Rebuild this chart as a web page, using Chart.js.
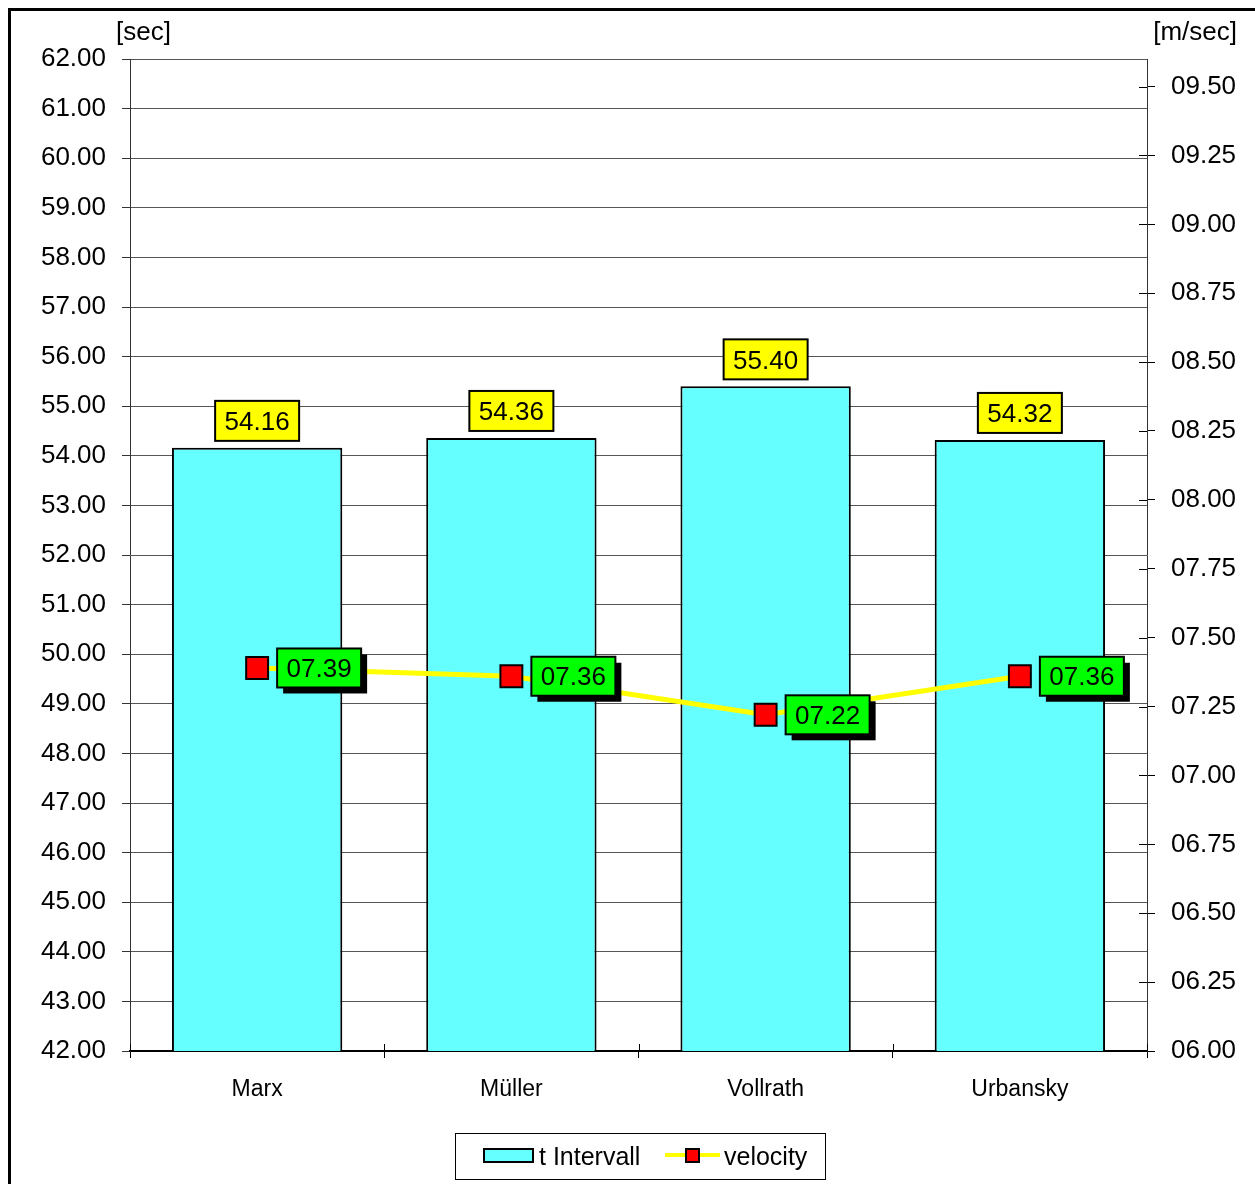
<!DOCTYPE html>
<html>
<head>
<meta charset="utf-8">
<script src="https://cdn.jsdelivr.net/npm/chart.js@4/dist/chart.umd.min.js"></script>
<style>
  html, body { margin: 0; padding: 0; background: #fff; }
  #wrap { position: relative; width: 1255px; height: 1184px; }
</style>
</head>
<body>
<div id="wrap"><canvas id="c"></canvas></div>
<script>
const categories = ['Marx', 'Müller', 'Vollrath', 'Urbansky'];
const tIntervall = [54.16, 54.36, 55.40, 54.32];
const velocity = [7.39, 7.36, 7.22, 7.36];
const leftMin = 42, leftMax = 62, leftStep = 1;
const rightMin = 6, rightMax = 9.6;
const rightTickValues = [6.00, 6.25, 6.50, 6.75, 7.00, 7.25, 7.50, 7.75, 8.00, 8.25, 8.50, 8.75, 9.00, 9.25, 9.50];
const leftTitle = '[sec]';
const rightTitle = '[m/sec]';
const seriesNames = ['t Intervall', 'velocity'];

const FONT = '"Liberation Sans", Arial, sans-serif';
const fmt2 = v => v.toFixed(2).padStart(5, '0');

const decor = {
  id: 'decor',
  beforeDraw(chart) {
    const ctx = chart.ctx;
    ctx.save();
    ctx.fillStyle = '#fff';
    ctx.fillRect(0, 0, chart.width, chart.height);
    ctx.fillStyle = '#000';
    ctx.fillRect(8, 8, chart.width, 3);
    ctx.fillRect(8, 8, 3, chart.height);
    ctx.restore();
  },
  afterDatasetsDraw(chart) {
    const ctx = chart.ctx;
    ctx.save();
    ctx.font = '26px ' + FONT;
    ctx.textAlign = 'center';
    ctx.textBaseline = 'middle';
    // bar value labels
    const barMeta = chart.getDatasetMeta(0);
    barMeta.data.forEach((el, i) => {
      const w = 84, h = 40;
      const bx = el.x - w / 2, by = el.y - 7 - h;
      ctx.fillStyle = '#FFFF00';
      ctx.fillRect(bx, by, w, h);
      ctx.lineWidth = 2;
      ctx.strokeStyle = '#000';
      ctx.strokeRect(bx, by, w, h);
      ctx.fillStyle = '#000';
      ctx.fillText(tIntervall[i].toFixed(2), el.x, by + h / 2 + 2);
    });
    // velocity labels
    const lineMeta = chart.getDatasetMeta(1);
    lineMeta.data.forEach((el, i) => {
      const w = 84, h = 39;
      const bx = el.x + 20, by = el.y - h / 2;
      ctx.fillStyle = '#000';
      ctx.fillRect(bx + 6, by + 6, w, h);
      ctx.fillStyle = '#00FF00';
      ctx.fillRect(bx, by, w, h);
      ctx.lineWidth = 2;
      ctx.strokeStyle = '#000';
      ctx.strokeRect(bx, by, w, h);
      ctx.fillStyle = '#000';
      ctx.fillText(fmt2(velocity[i]), bx + w / 2, by + h / 2 + 2);
    });
    ctx.restore();
  },
  afterDraw(chart) {
    const ctx = chart.ctx;
    const ca = chart.chartArea;
    const y1 = chart.scales.y1;
    ctx.save();
    ctx.strokeStyle = '#000';
    ctx.lineWidth = 1;
    // inner halves of right axis ticks
    y1.ticks.forEach(t => {
      const py = Math.round(y1.getPixelForValue(t.value)) + 0.5;
      ctx.beginPath();
      ctx.moveTo(ca.right - 8, py);
      ctx.lineTo(ca.right, py);
      ctx.stroke();
    });
    // inner halves of x ticks at category boundaries
    const n = categories.length;
    for (let i = 0; i <= n; i++) {
      const px = Math.round(ca.left + (ca.right - ca.left) * i / n) + 0.5;
      ctx.beginPath();
      ctx.moveTo(px, ca.bottom - 7);
      ctx.lineTo(px, ca.bottom);
      ctx.stroke();
    }
    // axis titles
    ctx.fillStyle = '#000';
    ctx.font = '26px ' + FONT;
    ctx.textBaseline = 'alphabetic';
    ctx.textAlign = 'left';
    ctx.fillText(leftTitle, 116, 40);
    ctx.textAlign = 'right';
    ctx.fillText(rightTitle, 1237, 40);
    // legend
    const lx = 455, ly = 1133, lw = 370, lh = 46;
    ctx.fillStyle = '#fff';
    ctx.fillRect(lx, ly, lw, lh);
    ctx.strokeStyle = '#000';
    ctx.lineWidth = 1;
    ctx.strokeRect(lx + 0.5, ly + 0.5, lw, lh);
    ctx.fillStyle = '#66FFFF';
    ctx.fillRect(483, 1149, 50, 13);
    ctx.lineWidth = 2;
    ctx.strokeRect(484, 1149, 49, 13);
    ctx.fillStyle = '#000';
    ctx.font = '25px ' + FONT;
    ctx.textAlign = 'left';
    ctx.textBaseline = 'middle';
    ctx.fillText(seriesNames[0], 539, 1158);
    ctx.strokeStyle = '#FFFF00';
    ctx.lineWidth = 4;
    ctx.beginPath();
    ctx.moveTo(665, 1155);
    ctx.lineTo(720, 1155);
    ctx.stroke();
    ctx.fillStyle = '#FF0000';
    ctx.fillRect(686, 1149, 13, 13);
    ctx.strokeStyle = '#000';
    ctx.lineWidth = 2;
    ctx.strokeRect(686, 1149, 13, 13);
    ctx.fillStyle = '#000';
    ctx.fillText(seriesNames[1], 724, 1158);
    ctx.restore();
  }
};

new Chart(document.getElementById('c'), {
  data: {
    labels: categories,
    datasets: [
      {
        type: 'bar',
        label: seriesNames[0],
        data: tIntervall,
        yAxisID: 'y',
        backgroundColor: '#66FFFF',
        borderColor: '#000',
        borderWidth: 2,
        borderSkipped: 'bottom',
        categoryPercentage: 1.0,
        barPercentage: 0.67,
        order: 2
      },
      {
        type: 'line',
        label: seriesNames[1],
        data: velocity,
        yAxisID: 'y1',
        borderColor: '#FFFF00',
        borderWidth: 5,
        pointStyle: 'rect',
        pointRadius: 15.5,
        pointHoverRadius: 15.5,
        pointBackgroundColor: '#FF0000',
        pointBorderColor: '#000',
        pointBorderWidth: 2,
        tension: 0,
        order: 1
      }
    ]
  },
  options: {
    responsive: true,
    maintainAspectRatio: false,
    animation: false,
    events: [],
    layout: { padding: { top: 59, left: 0, right: 0, bottom: 0 } },
    plugins: { legend: { display: false }, tooltip: { enabled: false } },
    scales: {
      x: {
        type: 'category',
        offset: true,
        grid: { offset: true, drawOnChartArea: false, color: '#000', tickLength: 7 },
        border: { color: '#000', width: 2 },
        ticks: { color: '#000', font: { family: FONT, size: 23 }, padding: 18, maxRotation: 0 },
        afterFit(s) { s.height = 133; }
      },
      y: {
        type: 'linear',
        position: 'left',
        min: leftMin, max: leftMax,
        ticks: { stepSize: leftStep, color: '#000', font: { family: FONT, size: 26 }, padding: 16, callback: v => v.toFixed(2) },
        grid: { color: '#555', lineWidth: 1, tickLength: 8, tickColor: '#333' },
        border: { color: '#333', width: 1 },
        afterFit(s) { s.width = 130; }
      },
      y1: {
        type: 'linear',
        position: 'right',
        min: rightMin, max: rightMax,
        afterBuildTicks(s) { s.ticks = rightTickValues.map(v => ({ value: v })); },
        ticks: { color: '#000', font: { family: FONT, size: 26 }, padding: 16, callback: v => fmt2(v) },
        grid: { drawOnChartArea: false, color: '#000', tickLength: 8 },
        border: { color: '#333', width: 1 },
        afterFit(s) { s.width = 108; }
      }
    }
  },
  plugins: [decor]
});
</script>
</body>
</html>
